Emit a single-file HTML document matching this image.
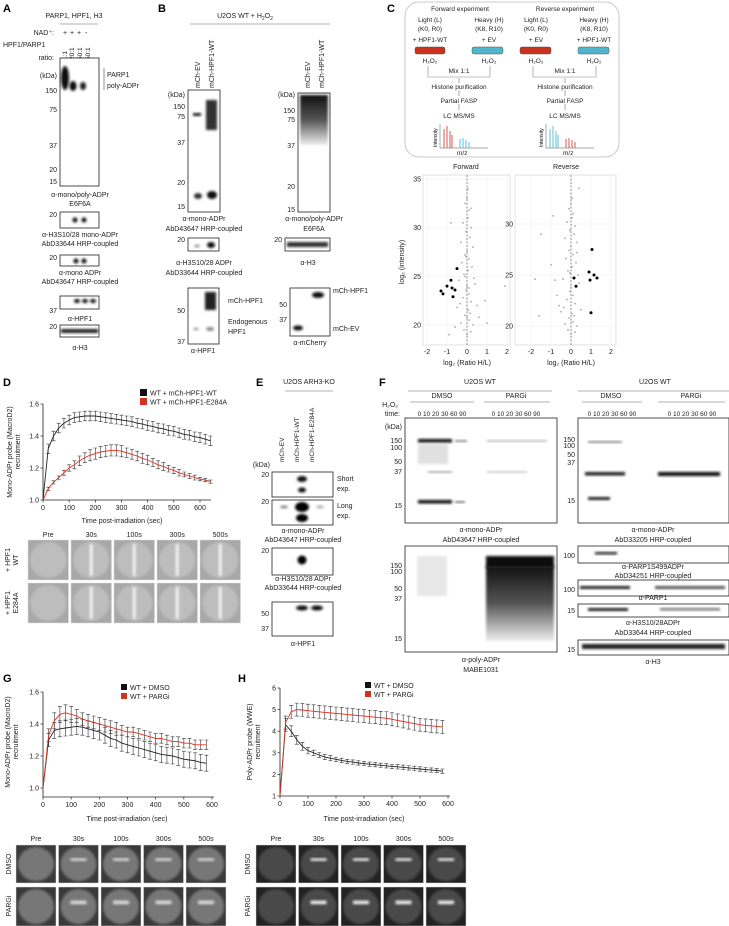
<!DOCTYPE html>
<html><head><meta charset="utf-8"><style>
html,body{margin:0;padding:0;background:#fff;}
svg{display:block;font-family:"Liberation Sans",Arial,sans-serif;}
.t{font-size:7px;fill:#222;}
.s{font-size:6.5px;fill:#222;}
.L{font-size:11px;font-weight:bold;fill:#000;}
.bl{fill:#fff;stroke:#222;stroke-width:0.8;}
</style></head><body>
<svg id="fig" width="729" height="926" viewBox="0 0 729 926">
<defs>
<filter id="b1" x="-50%" y="-50%" width="200%" height="200%"><feGaussianBlur stdDeviation="1.2"/></filter>
<filter id="b2" x="-50%" y="-50%" width="200%" height="200%"><feGaussianBlur stdDeviation="2.5"/></filter>
<linearGradient id="smear" x1="0" y1="0" x2="0" y2="1"><stop offset="0" stop-color="#111"/><stop offset="0.5" stop-color="#555"/><stop offset="1" stop-color="#eee"/></linearGradient>
</defs>

<!-- PANEL A -->
<g>
<text class="L" x="3" y="12">A</text>
<text class="t" x="74" y="18" text-anchor="middle">PARP1, HPF1, H3</text>
<line x1="60" y1="24" x2="98" y2="24" stroke="#999" stroke-width="0.8"/>
<text class="t" x="54" y="35" text-anchor="end">NAD⁺:</text>
<text class="t" x="63" y="35">+</text><text class="t" x="70" y="35">+</text><text class="t" x="77" y="35">+</text><text class="t" x="85" y="35">-</text>
<text class="t" x="3" y="47">HPF1/PARP1</text>
<text class="t" x="54" y="60" text-anchor="end">ratio:</text>
<text class="s" transform="translate(67,60) rotate(-90)">1:1</text>
<text class="s" transform="translate(74,60) rotate(-90)">20:1</text>
<text class="s" transform="translate(82,60) rotate(-90)">50:1</text>
<text class="s" transform="translate(90,60) rotate(-90)">50:1</text>
<rect class="bl" x="60" y="58" width="39" height="128"/>
<ellipse cx="65" cy="78" rx="4" ry="12" fill="#111" filter="url(#b1)"/>
<ellipse cx="73" cy="86" rx="3.5" ry="5" fill="#111" filter="url(#b1)"/>
<ellipse cx="83" cy="86" rx="3" ry="4" fill="#222" filter="url(#b1)"/>
<text class="t" x="57" y="78" text-anchor="end">(kDa)</text>
<text class="t" x="57" y="93" text-anchor="end">150</text><text class="t" x="57" y="112" text-anchor="end">75</text>
<text class="t" x="57" y="148" text-anchor="end">37</text><text class="t" x="57" y="172" text-anchor="end">20</text><text class="t" x="57" y="184" text-anchor="end">15</text>
<line x1="104" y1="68" x2="104" y2="90" stroke="#444" stroke-width="0.6"/>
<text class="t" x="107" y="77">PARP1</text><text class="t" x="107" y="88">poly-ADPr</text>
<text class="t" x="80" y="197" text-anchor="middle">α-mono/poly-ADPr</text>
<text class="t" x="80" y="206" text-anchor="middle">E6F6A</text>
<rect class="bl" x="60" y="212" width="39" height="16"/>
<circle cx="75" cy="220" r="2.5" fill="#111" filter="url(#b1)"/><circle cx="84" cy="220" r="2.5" fill="#111" filter="url(#b1)"/>
<text class="t" x="57" y="217" text-anchor="end">20</text>
<text class="t" x="80" y="237" text-anchor="middle">α-H3S10/28 mono-ADPr</text>
<text class="t" x="80" y="246" text-anchor="middle">AbD33644 HRP-coupled</text>
<rect class="bl" x="60" y="255" width="39" height="11"/>
<circle cx="76" cy="261" r="2.5" fill="#111" filter="url(#b1)"/><circle cx="84" cy="261" r="2.5" fill="#111" filter="url(#b1)"/>
<text class="t" x="57" y="260" text-anchor="end">20</text>
<text class="t" x="80" y="275" text-anchor="middle">α-mono ADPr</text>
<text class="t" x="80" y="284" text-anchor="middle">AbD43647 HRP-coupled</text>
<rect class="bl" x="60" y="296" width="39" height="13"/>
<ellipse cx="77" cy="301" rx="3" ry="2" fill="#111" filter="url(#b1)"/><ellipse cx="85" cy="301" rx="3" ry="2" fill="#111" filter="url(#b1)"/><ellipse cx="93" cy="301" rx="3" ry="2" fill="#111" filter="url(#b1)"/>
<text class="t" x="57" y="313" text-anchor="end">37</text>
<text class="t" x="80" y="321" text-anchor="middle">α-HPF1</text>
<rect class="bl" x="60" y="325" width="39" height="12"/>
<rect x="61" y="329" width="37" height="4" fill="#222" filter="url(#b1)"/>
<text class="t" x="57" y="329" text-anchor="end">20</text>
<text class="t" x="80" y="350" text-anchor="middle">α-H3</text>
</g>

<!-- PANEL B -->
<g>
<text class="L" x="158" y="12">B</text>
<text class="t" x="245" y="18" text-anchor="middle">U2OS WT + H<tspan font-size="5" dy="2">2</tspan><tspan dy="-2">O</tspan><tspan font-size="5" dy="2">2</tspan></text>
<line x1="190" y1="24" x2="330" y2="24" stroke="#999" stroke-width="0.8"/>
<text class="t" transform="translate(200,88) rotate(-90)">mCh-EV</text>
<text class="t" transform="translate(214,88) rotate(-90)">mCh-HPF1-WT</text>
<text class="t" transform="translate(310,88) rotate(-90)">mCh-EV</text>
<text class="t" transform="translate(324,88) rotate(-90)">mCh-HPF1-WT</text>
<rect class="bl" x="188" y="90" width="32" height="122"/>
<rect x="193" y="113" width="8" height="3" fill="#222" filter="url(#b1)"/>
<rect x="206" y="100" width="11" height="30" fill="#333" filter="url(#b1)"/>
<ellipse cx="198" cy="196" rx="4" ry="3" fill="#333" filter="url(#b1)"/>
<ellipse cx="212" cy="195" rx="5" ry="4" fill="#111" filter="url(#b1)"/>
<text class="t" x="185" y="97" text-anchor="end">(kDa)</text>
<text class="t" x="185" y="109" text-anchor="end">150</text><text class="t" x="185" y="119" text-anchor="end">75</text>
<text class="t" x="185" y="145" text-anchor="end">37</text><text class="t" x="185" y="185" text-anchor="end">20</text><text class="t" x="185" y="209" text-anchor="end">15</text>
<rect class="bl" x="298" y="93" width="32" height="119"/>
<rect x="300" y="95" width="28" height="50" fill="url(#smear)" filter="url(#b1)"/>
<text class="t" x="295" y="97" text-anchor="end">(kDa)</text>
<text class="t" x="295" y="113" text-anchor="end">150</text><text class="t" x="295" y="122" text-anchor="end">75</text>
<text class="t" x="295" y="148" text-anchor="end">37</text><text class="t" x="295" y="189" text-anchor="end">20</text><text class="t" x="295" y="212" text-anchor="end">15</text>
<text class="t" x="204" y="221" text-anchor="middle">α-mono-ADPr</text>
<text class="t" x="204" y="231" text-anchor="middle">AbD43647 HRP-coupled</text>
<text class="t" x="314" y="221" text-anchor="middle">α-mono/poly-ADPr</text>
<text class="t" x="314" y="231" text-anchor="middle">E6F6A</text>
<rect class="bl" x="188" y="238" width="31" height="13"/>
<ellipse cx="197" cy="246" rx="3" ry="1.5" fill="#999" filter="url(#b1)"/><ellipse cx="211" cy="245" rx="4" ry="3" fill="#111" filter="url(#b1)"/>
<text class="t" x="185" y="242" text-anchor="end">20</text>
<rect class="bl" x="285" y="238" width="45" height="13"/>
<rect x="287" y="242" width="41" height="5" fill="#333" filter="url(#b1)"/>
<text class="t" x="282" y="242" text-anchor="end">20</text>
<text class="t" x="204" y="265" text-anchor="middle">α-H3S10/28 ADPr</text>
<text class="t" x="204" y="275" text-anchor="middle">AbD33644 HRP-coupled</text>
<text class="t" x="308" y="265" text-anchor="middle">α-H3</text>
<rect class="bl" x="188" y="288" width="31" height="56"/>
<rect x="205" y="292" width="11" height="18" fill="#222" filter="url(#b1)"/>
<ellipse cx="196" cy="329" rx="3" ry="1.5" fill="#aaa" filter="url(#b1)"/><ellipse cx="210" cy="329" rx="4" ry="2" fill="#888" filter="url(#b1)"/>
<text class="t" x="185" y="313" text-anchor="end">50</text><text class="t" x="185" y="344" text-anchor="end">37</text>
<text class="t" x="228" y="303">mCh-HPF1</text><text class="t" x="228" y="324">Endogenous</text><text class="t" x="228" y="334">HPF1</text>
<text class="t" x="203" y="353" text-anchor="middle">α-HPF1</text>
<rect class="bl" x="290" y="288" width="40" height="48"/>
<ellipse cx="318" cy="295" rx="6" ry="3" fill="#111" filter="url(#b1)"/><ellipse cx="298" cy="328" rx="5" ry="2.5" fill="#111" filter="url(#b1)"/>
<text class="t" x="287" y="307" text-anchor="end">50</text><text class="t" x="287" y="322" text-anchor="end">37</text>
<text class="t" x="333" y="293">mCh-HPF1</text><text class="t" x="333" y="331">mCh-EV</text>
<text class="t" x="310" y="345" text-anchor="middle">α-mCherry</text>
</g>

<!-- PANEL C -->
<g>
<text class="L" x="387" y="12">C</text>
<rect x="405" y="2" width="214" height="155" rx="14" fill="#fff" stroke="#bbb" stroke-width="0.8"/>
<text class="s" x="460" y="11" text-anchor="middle">Forward experiment</text>
<text class="s" x="565" y="11" text-anchor="middle">Reverse experiment</text>
<text class="s" x="430" y="22" text-anchor="middle">Light (L)</text><text class="s" x="489" y="22" text-anchor="middle">Heavy (H)</text>
<text class="s" x="536" y="22" text-anchor="middle">Light (L)</text><text class="s" x="594" y="22" text-anchor="middle">Heavy (H)</text>
<text class="s" x="430" y="31" text-anchor="middle">(K0, R0)</text><text class="s" x="489" y="31" text-anchor="middle">(K8, R10)</text>
<text class="s" x="536" y="31" text-anchor="middle">(K0, R0)</text><text class="s" x="594" y="31" text-anchor="middle">(K8, R10)</text>
<text class="s" x="430" y="42" text-anchor="middle">+ HPF1-WT</text><text class="s" x="489" y="42" text-anchor="middle">+ EV</text>
<text class="s" x="536" y="42" text-anchor="middle">+ EV</text><text class="s" x="594" y="42" text-anchor="middle">+ HPF1-WT</text>
<rect x="415" y="47" width="30" height="7" rx="2" fill="#c8321e" stroke="#555" stroke-width="0.5"/>
<rect x="472" y="47" width="31" height="7" rx="2" fill="#4fb6cc" stroke="#555" stroke-width="0.5"/>
<rect x="520" y="47" width="31" height="7" rx="2" fill="#c8321e" stroke="#555" stroke-width="0.5"/>
<rect x="578" y="47" width="31" height="7" rx="2" fill="#4fb6cc" stroke="#555" stroke-width="0.5"/>
<text class="s" x="430" y="63" text-anchor="middle">H₂O₂</text><text class="s" x="489" y="63" text-anchor="middle">H₂O₂</text>
<text class="s" x="536" y="63" text-anchor="middle">H₂O₂</text><text class="s" x="594" y="63" text-anchor="middle">H₂O₂</text>
<path d="M428 66V77H490V66M533 66V77H596V66" fill="none" stroke="#888" stroke-width="0.6"/>
<text class="s" x="459" y="73" text-anchor="middle">Mix 1:1</text><text class="s" x="565" y="73" text-anchor="middle">Mix 1:1</text>
<path d="M459 78V83M565 78V83M459 90V96M565 90V96M459 104V110M565 104V110" stroke="#555" stroke-width="0.5"/>
<text class="s" x="459" y="89" text-anchor="middle">Histone purification</text><text class="s" x="565" y="89" text-anchor="middle">Histone purification</text>
<text class="s" x="459" y="103" text-anchor="middle">Partial FASP</text><text class="s" x="565" y="103" text-anchor="middle">Partial FASP</text>
<text class="s" x="459" y="118" text-anchor="middle">LC MS/MS</text><text class="s" x="565" y="118" text-anchor="middle">LC MS/MS</text>
<path d="M440 124V148H488M546 124V148H594" fill="none" stroke="#555" stroke-width="0.5"/>
<path d="M444 148V129M447 148V126M450 148V131M452 148V135" stroke="#d9574a" stroke-width="1"/>
<path d="M460 148V139M463 148V138M466 148V140M469 148V142" stroke="#5cc0d8" stroke-width="1"/>
<path d="M550 148V129M553 148V126M556 148V131M558 148V135" stroke="#5cc0d8" stroke-width="1"/>
<path d="M566 148V139M569 148V138M572 148V140M575 148V142" stroke="#d9574a" stroke-width="1"/>
<text font-size="5" transform="translate(437,147) rotate(-90)">Intensity</text>
<text font-size="5" transform="translate(543,147) rotate(-90)">Intensity</text>
<text class="s" x="457" y="155">m/z</text><text class="s" x="563" y="155">m/z</text>
<text class="t" x="466" y="169" text-anchor="middle">Forward</text>
<text class="t" x="566" y="169" text-anchor="middle">Reverse</text>
<text class="t" transform="translate(404,262) rotate(-90)" text-anchor="middle">log₂ (intensity)</text>
<text class="t" x="467" y="365" text-anchor="middle">log₂ (Ratio H/L)</text>
<text class="t" x="571" y="365" text-anchor="middle">log₂ (Ratio H/L)</text>
<g id="scatter"></g>
</g>

<!-- PANEL D -->
<g>
<text class="L" x="3" y="386">D</text>
<rect x="140" y="389" width="7" height="7" fill="#111"/><text class="t" x="150" y="395.5">WT + mCh-HPF1-WT</text>
<rect x="140" y="398" width="7" height="7" fill="#d6311f"/><text class="t" x="150" y="404.5">WT + mCh-HPF1-E284A</text>
<text class="t" transform="translate(12,452) rotate(-90)" text-anchor="middle">Mono-ADPr probe (MacroD2)</text>
<text class="t" transform="translate(20,452) rotate(-90)" text-anchor="middle">recruitment</text>
<text class="t" x="122" y="523" text-anchor="middle">Time post-irradiation (sec)</text>
<g id="chartD"></g>
<g id="tilesD"></g>
<text class="t" transform="translate(10,560) rotate(-90)" text-anchor="middle">+ HPF1</text>
<text class="t" transform="translate(18,560) rotate(-90)" text-anchor="middle">WT</text>
<text class="t" transform="translate(10,603) rotate(-90)" text-anchor="middle">+ HPF1</text>
<text class="t" transform="translate(18,603) rotate(-90)" text-anchor="middle">E284A</text>
</g>

<!-- PANEL E -->
<g>
<text class="L" x="256" y="386">E</text>
<text class="t" x="309" y="384" text-anchor="middle">U2OS ARH3-KO</text>
<line x1="285" y1="391" x2="333" y2="391" stroke="#999" stroke-width="0.8"/>
<text class="s" transform="translate(284,462) rotate(-90)">mCh-EV</text>
<text class="s" transform="translate(299,462) rotate(-90)">mCh-HPF1-WT</text>
<text class="s" transform="translate(314,462) rotate(-90)">mCh-HPF1-E284A</text>
<text class="t" x="270" y="467" text-anchor="end">(kDa)</text>
<rect class="bl" x="272" y="472" width="61" height="25"/>
<ellipse cx="302" cy="479" rx="5" ry="3" fill="#111" filter="url(#b1)"/><ellipse cx="302" cy="490" rx="4" ry="2.5" fill="#111" filter="url(#b1)"/>
<rect class="bl" x="272" y="500" width="61" height="25"/>
<ellipse cx="302" cy="507" rx="7" ry="5" fill="#000" filter="url(#b1)"/><ellipse cx="302" cy="518" rx="6" ry="4" fill="#000" filter="url(#b1)"/>
<ellipse cx="284" cy="507" rx="4" ry="1.5" fill="#888" filter="url(#b1)"/><ellipse cx="320" cy="507" rx="4" ry="1.5" fill="#aaa" filter="url(#b1)"/>
<text class="t" x="269" y="477" text-anchor="end">20</text><text class="t" x="269" y="504" text-anchor="end">20</text>
<text class="t" x="337" y="481">Short</text><text class="t" x="337" y="491">exp.</text>
<text class="t" x="337" y="508">Long</text><text class="t" x="337" y="518">exp.</text>
<text class="t" x="303" y="533" text-anchor="middle">α-mono-ADPr</text>
<text class="t" x="303" y="542" text-anchor="middle">AbD43647 HRP-coupled</text>
<rect class="bl" x="272" y="548" width="61" height="27"/>
<circle cx="302" cy="560" r="4.5" fill="#000" filter="url(#b1)"/>
<text class="t" x="269" y="553" text-anchor="end">20</text>
<text class="t" x="303" y="581" text-anchor="middle">α-H3S10/28 ADPr</text>
<text class="t" x="303" y="590" text-anchor="middle">AbD33644 HRP-coupled</text>
<rect class="bl" x="272" y="602" width="61" height="34"/>
<ellipse cx="302" cy="608" rx="6" ry="2.5" fill="#111" filter="url(#b1)"/><ellipse cx="317" cy="608" rx="6" ry="2.5" fill="#111" filter="url(#b1)"/>
<text class="t" x="269" y="616" text-anchor="end">50</text><text class="t" x="269" y="631" text-anchor="end">37</text>
<text class="t" x="303" y="646" text-anchor="middle">α-HPF1</text>
</g>

<!-- PANEL F -->
<g>
<text class="L" x="379" y="386">F</text>
<text class="t" x="480" y="384" text-anchor="middle">U2OS WT</text>
<line x1="408" y1="391" x2="552" y2="391" stroke="#999" stroke-width="0.8"/>
<text class="t" x="442" y="398" text-anchor="middle">DMSO</text><text class="t" x="516" y="398" text-anchor="middle">PARGi</text>
<line x1="410" y1="402" x2="474" y2="402" stroke="#999" stroke-width="0.8"/><line x1="484" y1="402" x2="550" y2="402" stroke="#999" stroke-width="0.8"/>
<text class="t" x="398" y="407" text-anchor="end">H₂O₂</text><text class="t" x="400" y="416" text-anchor="end">time:</text>
<text class="s" x="442" y="416" text-anchor="middle">0 10 20 30 60 90</text><text class="s" x="516" y="416" text-anchor="middle">0 10 20 30 60 90</text>
<text class="t" x="655" y="384" text-anchor="middle">U2OS WT</text>
<line x1="578" y1="391" x2="729" y2="391" stroke="#999" stroke-width="0.8"/>
<text class="t" x="611" y="398" text-anchor="middle">DMSO</text><text class="t" x="691" y="398" text-anchor="middle">PARGi</text>
<line x1="582" y1="402" x2="642" y2="402" stroke="#999" stroke-width="0.8"/><line x1="658" y1="402" x2="725" y2="402" stroke="#999" stroke-width="0.8"/>
<text class="s" x="612" y="416" text-anchor="middle">0 10 20 30 60 90</text><text class="s" x="692" y="416" text-anchor="middle">0 10 20 30 60 90</text>
<rect class="bl" x="405" y="418" width="152" height="105"/>
<text class="t" x="402" y="429" text-anchor="end">(kDa)</text>
<text class="t" x="402" y="443" text-anchor="end">150</text><text class="t" x="402" y="450" text-anchor="end">100</text>
<text class="t" x="402" y="464" text-anchor="end">50</text><text class="t" x="402" y="474" text-anchor="end">37</text><text class="t" x="402" y="508" text-anchor="end">15</text>
<rect x="418" y="439" width="34" height="3.5" fill="#111" filter="url(#b1)"/><rect x="455" y="440" width="12" height="2" fill="#888" filter="url(#b1)"/>
<rect x="418" y="444" width="30" height="20" fill="#ccc" opacity="0.6" filter="url(#b1)"/>
<rect x="418" y="500" width="34" height="3.5" fill="#111" filter="url(#b1)"/><rect x="455" y="501" width="10" height="2" fill="#777" filter="url(#b1)"/>
<rect x="428" y="471" width="24" height="2" fill="#aaa" filter="url(#b1)"/>
<rect x="487" y="440" width="60" height="2" fill="#bbb" filter="url(#b1)"/><rect x="487" y="471" width="40" height="2" fill="#ccc" filter="url(#b1)"/>
<text class="t" x="481" y="532" text-anchor="middle">α-mono-ADPr</text>
<text class="t" x="481" y="542" text-anchor="middle">AbD43647 HRP-coupled</text>
<rect class="bl" x="405" y="546" width="152" height="106"/>
<rect x="417" y="556" width="30" height="40" fill="#ddd" opacity="0.7" filter="url(#b1)"/>
<rect x="486" y="556" width="68" height="12" fill="#111" filter="url(#b1)"/>
<rect x="486" y="566" width="68" height="75" fill="url(#smear)" filter="url(#b1)"/>
<text class="t" x="402" y="568" text-anchor="end">150</text><text class="t" x="402" y="574" text-anchor="end">100</text>
<text class="t" x="402" y="591" text-anchor="end">50</text><text class="t" x="402" y="601" text-anchor="end">37</text><text class="t" x="402" y="641" text-anchor="end">15</text>
<text class="t" x="481" y="662" text-anchor="middle">α-poly-ADPr</text>
<text class="t" x="481" y="672" text-anchor="middle">MABE1031</text>
<rect class="bl" x="578" y="418" width="151" height="105"/>
<text class="t" x="575" y="442" text-anchor="end">150</text><text class="t" x="575" y="448" text-anchor="end">100</text>
<text class="t" x="575" y="457" text-anchor="end">50</text><text class="t" x="575" y="465" text-anchor="end">37</text><text class="t" x="575" y="503" text-anchor="end">15</text>
<rect x="588" y="441" width="34" height="2" fill="#888" filter="url(#b1)"/>
<rect x="585" y="472" width="40" height="3.5" fill="#222" filter="url(#b1)"/><rect x="658" y="472" width="62" height="4" fill="#111" filter="url(#b1)"/>
<rect x="588" y="497" width="22" height="3" fill="#222" filter="url(#b1)"/>
<text class="t" x="653" y="532" text-anchor="middle">α-mono-ADPr</text>
<text class="t" x="653" y="542" text-anchor="middle">AbD33205 HRP-coupled</text>
<rect class="bl" x="578" y="546" width="151" height="17"/>
<rect x="595" y="552" width="22" height="2.5" fill="#222" filter="url(#b1)"/>
<text class="t" x="575" y="558" text-anchor="end">100</text>
<text class="t" x="653" y="569" text-anchor="middle">α-PARP1S499ADPr</text>
<text class="t" x="653" y="578" text-anchor="middle">AbD34251 HRP-coupled</text>
<rect class="bl" x="578" y="580" width="151" height="16"/>
<rect x="580" y="586" width="50" height="3" fill="#222" filter="url(#b1)"/><rect x="655" y="586" width="70" height="3" fill="#555" filter="url(#b1)"/>
<text class="t" x="575" y="592" text-anchor="end">100</text>
<text class="t" x="653" y="600" text-anchor="middle">α-PARP1</text>
<rect class="bl" x="578" y="604" width="151" height="13"/>
<rect x="588" y="608" width="40" height="3" fill="#222" filter="url(#b1)"/><rect x="660" y="608" width="60" height="2.5" fill="#777" filter="url(#b1)"/>
<text class="t" x="575" y="613" text-anchor="end">15</text>
<text class="t" x="653" y="625" text-anchor="middle">α-H3S10/28ADPr</text>
<text class="t" x="653" y="635" text-anchor="middle">AbD33644 HRP-coupled</text>
<rect class="bl" x="578" y="640" width="151" height="15"/>
<rect x="582" y="644" width="143" height="5" fill="#222" filter="url(#b1)"/>
<text class="t" x="575" y="652" text-anchor="end">15</text>
<text class="t" x="653" y="664" text-anchor="middle">α-H3</text>
</g>

<!-- PANEL G -->
<g>
<text class="L" x="3" y="682">G</text>
<rect x="121" y="684" width="6" height="6" fill="#111"/><text class="t" x="130" y="690">WT + DMSO</text>
<rect x="121" y="693" width="6" height="6" fill="#d6311f"/><text class="t" x="130" y="699">WT + PARGi</text>
<text class="t" transform="translate(10,742) rotate(-90)" text-anchor="middle">Mono-ADPr probe (MacroD2)</text>
<text class="t" transform="translate(18,742) rotate(-90)" text-anchor="middle">recruitment</text>
<text class="t" x="127" y="821" text-anchor="middle">Time post-irradiation (sec)</text>
<g id="chartG"></g>
<g id="tilesG"></g>
<text class="t" transform="translate(11,864) rotate(-90)" text-anchor="middle">DMSO</text>
<text class="t" transform="translate(11,906) rotate(-90)" text-anchor="middle">PARGi</text>
</g>

<!-- PANEL H -->
<g>
<text class="L" x="238" y="682">H</text>
<rect x="365" y="682" width="6" height="6" fill="#111"/><text class="t" x="374" y="688">WT + DMSO</text>
<rect x="365" y="691" width="6" height="6" fill="#d6311f"/><text class="t" x="374" y="697">WT + PARGi</text>
<text class="t" transform="translate(252,742) rotate(-90)" text-anchor="middle">Poly-ADPr probe (WWE)</text>
<text class="t" transform="translate(260,742) rotate(-90)" text-anchor="middle">recruitment</text>
<text class="t" x="364" y="821" text-anchor="middle">Time post-irradiation (sec)</text>
<g id="chartH"></g>
<g id="tilesH"></g>
<text class="t" transform="translate(250,864) rotate(-90)" text-anchor="middle">DMSO</text>
<text class="t" transform="translate(250,906) rotate(-90)" text-anchor="middle">PARGi</text>
</g>
</svg>

<script>
// ---- Data ----
const dTimes = [0,20,40,60,80,100,120,140,160,180,200,220,240,260,280,300,320,340,360,380,400,420,440,460,480,500,520,540,560,580,600,620,640];
const dWT = [1.0,1.32,1.40,1.45,1.48,1.50,1.515,1.52,1.525,1.525,1.525,1.52,1.515,1.51,1.505,1.50,1.495,1.49,1.48,1.475,1.465,1.46,1.45,1.445,1.435,1.43,1.42,1.41,1.405,1.395,1.39,1.38,1.37];
const dWTerr = [0,0.03,0.03,0.03,0.03,0.03,0.03,0.03,0.03,0.03,0.03,0.03,0.03,0.03,0.03,0.03,0.03,0.03,0.03,0.03,0.03,0.03,0.03,0.03,0.03,0.03,0.03,0.03,0.03,0.03,0.03,0.03,0.03];
const dE284A = [1.0,1.07,1.11,1.14,1.17,1.20,1.22,1.245,1.265,1.28,1.29,1.30,1.305,1.31,1.31,1.305,1.295,1.285,1.275,1.26,1.25,1.235,1.22,1.21,1.195,1.185,1.17,1.16,1.15,1.14,1.13,1.125,1.115];
const dE284Aerr = [0,0.01,0.01,0.01,0.015,0.02,0.025,0.03,0.03,0.035,0.035,0.035,0.035,0.035,0.035,0.035,0.03,0.03,0.03,0.03,0.03,0.025,0.025,0.025,0.02,0.02,0.02,0.015,0.015,0.015,0.01,0.01,0.01];
const dTicksX = ["0","100","200","300","400","500","600"];
const dTicksY = ["1.0","1.2","1.4","1.6"];

const gTimes = [0,20,40,60,80,100,120,140,160,180,200,220,240,260,280,300,320,340,360,380,400,420,440,460,480,500,520,540,560,580];
const gDMSO = [1.0,1.30,1.36,1.37,1.375,1.38,1.385,1.38,1.37,1.36,1.35,1.33,1.31,1.30,1.28,1.27,1.26,1.25,1.24,1.23,1.22,1.21,1.205,1.20,1.19,1.18,1.175,1.17,1.16,1.155];
const gDMSOerr = [0,0.04,0.05,0.05,0.05,0.05,0.05,0.05,0.05,0.05,0.05,0.05,0.05,0.05,0.05,0.05,0.05,0.05,0.05,0.05,0.05,0.05,0.05,0.05,0.05,0.05,0.05,0.05,0.05,0.05];
const gPARGi = [1.0,1.33,1.42,1.46,1.47,1.46,1.45,1.43,1.42,1.41,1.40,1.39,1.38,1.37,1.36,1.35,1.35,1.34,1.33,1.32,1.31,1.31,1.30,1.29,1.29,1.28,1.28,1.27,1.27,1.27];
const gPARGierr = [0,0.04,0.05,0.05,0.05,0.05,0.04,0.04,0.04,0.04,0.04,0.04,0.04,0.04,0.03,0.03,0.03,0.03,0.03,0.03,0.03,0.03,0.03,0.03,0.03,0.03,0.03,0.03,0.03,0.03];
const gTicksX = ["0","100","200","300","400","500","600"];
const gTicksY = ["1.0","1.2","1.4","1.6"];

const hTimes = [0,20,40,60,80,100,120,140,160,180,200,220,240,260,280,300,320,340,360,380,400,420,440,460,480,500,520,540,560,580];
const hDMSO = [1.0,4.3,4.0,3.6,3.3,3.1,3.0,2.9,2.8,2.75,2.7,2.65,2.6,2.57,2.53,2.5,2.47,2.45,2.42,2.4,2.37,2.35,2.33,2.3,2.28,2.25,2.22,2.2,2.18,2.15];
const hDMSOerr = [0,0.3,0.25,0.2,0.18,0.15,0.12,0.12,0.12,0.12,0.1,0.1,0.1,0.1,0.1,0.1,0.1,0.1,0.1,0.1,0.1,0.1,0.1,0.1,0.1,0.1,0.1,0.1,0.1,0.1];
const hPARGi = [1.0,4.4,4.9,5.0,4.98,4.95,4.92,4.9,4.87,4.85,4.82,4.8,4.77,4.75,4.72,4.7,4.67,4.65,4.62,4.6,4.55,4.5,4.45,4.4,4.35,4.3,4.27,4.25,4.22,4.2];
const hPARGierr = [0,0.3,0.3,0.3,0.3,0.3,0.3,0.3,0.3,0.3,0.3,0.3,0.3,0.3,0.3,0.3,0.3,0.3,0.3,0.3,0.3,0.3,0.3,0.3,0.3,0.3,0.3,0.3,0.3,0.3];
const hTicksX = ["0","100","200","300","400","500","600"];
const hTicksY = ["1","2","3","4","5","6"];

const fwdGrayX = [0,-0.1,0.1,0.05,-0.2,0.2,-0.05,0.15,-0.3,0.3,0,-0.1,0.1,-0.25,0.25,0.05,-0.15,0.35,-0.4,0.4,0,-0.05,0.1,-0.2,0.2,-0.35,0.5,-0.5,0.05,0.15,-0.1,0,0.1,-0.3,0.3,-0.6,0.6,-0.15,0.2,0,0.1,-0.1,0.9,-0.8,1.9,1.0,-0.9,0.05,-0.05,0.2];
const fwdGrayY = [33,32.5,31.8,31,30.5,30,29.6,29,28.5,28,27.6,27.2,26.8,26.4,26,25.6,25.2,24.8,24.6,24.2,24,23.6,23.2,22.8,22.4,22.2,22,21.8,21.5,21.2,21,20.8,20.5,20.2,20,19.8,20.8,19.5,19.3,19,23.8,25,22.5,30.5,24,20.2,19,34,27,32];
const fwdBlackX = [-1.3,-1.2,-1.0,-0.8,-0.75,-0.7,-0.6,-0.5];
const fwdBlackY = [23.5,23.2,24.0,24.6,23.8,22.9,23.6,25.8];
const revGrayX = [0,-0.1,0.1,0.05,-0.2,0.2,-0.05,0.15,-0.3,0.3,0,-0.1,0.1,-0.25,0.25,0.05,-0.15,0.35,-0.4,0.4,0,-0.05,0.1,-0.2,0.2,-0.35,0.5,-0.5,0.05,0.15,-0.1,0,0.1,-0.3,0.3,-0.6,-0.7,-0.15,0.2,0,-0.8,-1.0,-1.5,-1.8,-1.6,0.4,-0.9,0.05,-0.05,0.3];
const revGrayY = [32,31.5,31,30.6,30.2,29.8,29.4,29,28.6,28.2,27.8,27.4,27,26.6,26.2,25.8,25.4,25,24.6,24.2,23.8,23.4,23,22.6,22.2,21.8,21.6,21.4,21.2,21,20.8,20.6,20.4,20.2,20,22,23,19.6,19.4,19.2,24.5,26,29,24.6,21,33.5,30.8,32.5,25.2,27.2];
const revBlackX = [1.05,0.9,1.15,1.3,0.95,0.15,0.25,1.0];
const revBlackY = [27.5,25.3,25.0,24.7,24.5,24.7,23.9,21.3];
const scatterTicksX = ["-2","-1","0","1","2"];

const NS = "http://www.w3.org/2000/svg";
function mk(tag, attrs, parent){const e=document.createElementNS(NS,tag);for(const k in attrs)e.setAttribute(k,attrs[k]);parent.appendChild(e);return e;}

function drawChart(id, o){
  const g=document.getElementById(id);
  const sx=v=>o.px0+(v-o.x0)*(o.px1-o.px0)/(o.x1-o.x0);
  const sy=v=>o.py0-(v-o.y0)*(o.py0-o.py1)/(o.y1-o.y0);
  const ax=mk('path',{d:`M${o.px0} ${sy(o.y1)}V${o.axisY}H${o.axisEnd}`,fill:'none',stroke:'#222','stroke-width':0.8},g);
  
  
  o.ticksX.forEach(t=>{
    const v=parseFloat(t);
    const tl=mk('line',{x1:sx(v),x2:sx(v),y1:o.axisY,y2:o.axisY+2.5,stroke:'#222','stroke-width':0.7},g);
    
    
    const tx=mk('text',{x:sx(v),y:o.axisY+10,'text-anchor':'middle','class':'t'},g);
    tx.textContent=t;
    
    
  });
  o.ticksY.forEach(t=>{
    const v=parseFloat(t);
    const tl=mk('line',{x1:o.px0-2.5,x2:o.px0,y1:sy(v),y2:sy(v),stroke:'#222','stroke-width':0.7},g);
    
    
    const tx=mk('text',{x:o.px0-4,y:sy(v)+2.5,'text-anchor':'end','class':'t'},g);
    tx.textContent=t;
    
    
  });
  o.series.forEach(s=>{
    s.vals.forEach((v,i)=>{
      if(!s.err[i])return;
      const x=sx(s.t[i]);
      const eb=mk('path',{d:`M${x} ${sy(v-s.err[i])}V${sy(v+s.err[i])}M${x-2} ${sy(v-s.err[i])}h4M${x-2} ${sy(v+s.err[i])}h4`,stroke:'#333','stroke-width':0.6,fill:'none'},g);
      
      
    });
  });
  o.series.forEach(s=>{
    const d=s.vals.map((v,i)=>(i?'L':'M')+sx(s.t[i]).toFixed(1)+' '+sy(v).toFixed(1)).join('');
    const ln=mk('path',{d:d,stroke:s.color,'stroke-width':0.9,fill:'none'},g);
    
    
  });
}

drawChart('chartD',{px0:43,px1:200,x0:0,x1:600,py0:500,py1:404,y0:1.0,y1:1.6,axisY:500,axisEnd:211,ticksX:dTicksX,ticksY:dTicksY,
  series:[{name:'wt',t:dTimes,vals:dWT,err:dWTerr,color:'#222'},{name:'e284a',t:dTimes,vals:dE284A,err:dE284Aerr,color:'#e0301e'}]});
drawChart('chartG',{px0:43,px1:212,x0:0,x1:600,py0:788,py1:692,y0:1.0,y1:1.6,axisY:797,axisEnd:214,ticksX:gTicksX,ticksY:gTicksY,
  series:[{name:'dmso',t:gTimes,vals:gDMSO,err:gDMSOerr,color:'#222'},{name:'pargi',t:gTimes,vals:gPARGi,err:gPARGierr,color:'#e0301e'}]});
drawChart('chartH',{px0:280,px1:448,x0:0,x1:600,py0:796,py1:688,y0:1,y1:6,axisY:796,axisEnd:450,ticksX:hTicksX,ticksY:hTicksY,
  series:[{name:'dmso',t:hTimes,vals:hDMSO,err:hDMSOerr,color:'#222'},{name:'pargi',t:hTimes,vals:hPARGi,err:hPARGierr,color:'#e0301e'}]});

function drawScatter(o){
  const g=document.getElementById('scatter');
  const sx=v=>o.cx+v*o.kx;
  const sy=v=>o.y20-(v-20)*o.ky;
  const box=mk('rect',{x:o.bx0,y:175,width:o.bx1-o.bx0,height:170,fill:'#fff',stroke:'#ccc','stroke-width':0.6},g);
  
  
  scatterTicksX.forEach(t=>{
    const v=parseFloat(t);
    const gl=mk('line',{x1:sx(v),x2:sx(v),y1:175,y2:345,stroke:'#eee','stroke-width':0.5},g);
    
    
    const tx=mk('text',{x:sx(v),y:354,'text-anchor':'middle','class':'t'},g);
    tx.textContent=t;
    
    
  });
  o.yt.forEach(t=>{
    const v=parseFloat(t);
    const gl=mk('line',{x1:o.bx0,x2:o.bx1,y1:sy(v),y2:sy(v),stroke:'#eee','stroke-width':0.5},g);
    
    
    const tx=mk('text',{x:o.bx0-2,y:sy(v)+2.5,'text-anchor':'end','class':'t'},g);
    tx.textContent=t;
    
    
  });
  const zl=mk('line',{x1:sx(0),x2:sx(0),y1:175,y2:345,stroke:'#777','stroke-width':0.8,'stroke-dasharray':'2,1.5'},g);
  
  
  o.gx.forEach((v,i)=>{
    const p=mk('circle',{cx:sx(v),cy:sy(o.gy[i]),r:0.9,fill:'#aaa'},g);
    
    
  });
  o.kxs.forEach((v,i)=>{
    const p=mk('circle',{cx:sx(v),cy:sy(o.kys[i]),r:1.5,fill:'#000'},g);
    
    
  });
}
drawScatter({name:'forward',bx0:423,bx1:510,cx:467,kx:20,y20:325,ky:9.73,yt:["20","25","30","35"],gx:fwdGrayX,gy:fwdGrayY,kxs:fwdBlackX,kys:fwdBlackY});
drawScatter({name:'reverse',bx0:515,bx1:616,cx:571,kx:20,y20:326,ky:10.2,yt:["20","25","30"],gx:revGrayX,gy:revGrayY,kxs:revBlackX,kys:revBlackY});

const tileLabels=["Pre","30s","100s","300s","500s"];
function drawTiles(id,x0,w,gap,labY,rows,bg,cell,stripe,vertical){
  const g=document.getElementById(id);
  tileLabels.forEach((lab,i)=>{
    const x=x0+i*(w+gap);
    const tx=mk('text',{x:x+w/2,y:labY,'text-anchor':'middle','class':'t'},g);
    tx.textContent=lab;
    
    
    rows.forEach(([y,h],r)=>{
      const rc=mk('rect',{x:x,y:y,width:w,height:h,fill:bg,stroke:'#ddd','stroke-width':0.5},g);
      
      
      const el=mk('ellipse',{cx:x+w/2,cy:y+h/2,rx:w*0.45,ry:h*0.45,fill:cell,filter:'url(#b1)'},g);
      
      
      if(i>0){
        const st=vertical?mk('rect',{x:x+w/2-1.5,y:y+4,width:3,height:h-8,fill:stripe,filter:'url(#b1)'},g)
                        :mk('rect',{x:x+w*0.3,y:y+h*0.35,width:w*0.4,height:2.5+r,fill:stripe,filter:'url(#b1)'},g);
        
        
      }
    });
  });
}
drawTiles('tilesD',28,40.5,2.5,537,[[540,40],[583,40]],'#a8a8a8','#bdbdbd','#f4f4f4',true);
drawTiles('tilesG',16,40,2.5,841,[[845,38],[887,39]],'#3a3a3a','#777','#ddd',false);
drawTiles('tilesH',256,40,2.5,841,[[845,38],[887,39]],'#222','#4a4a4a','#f0f0f0',false);
</script>
</body></html>
